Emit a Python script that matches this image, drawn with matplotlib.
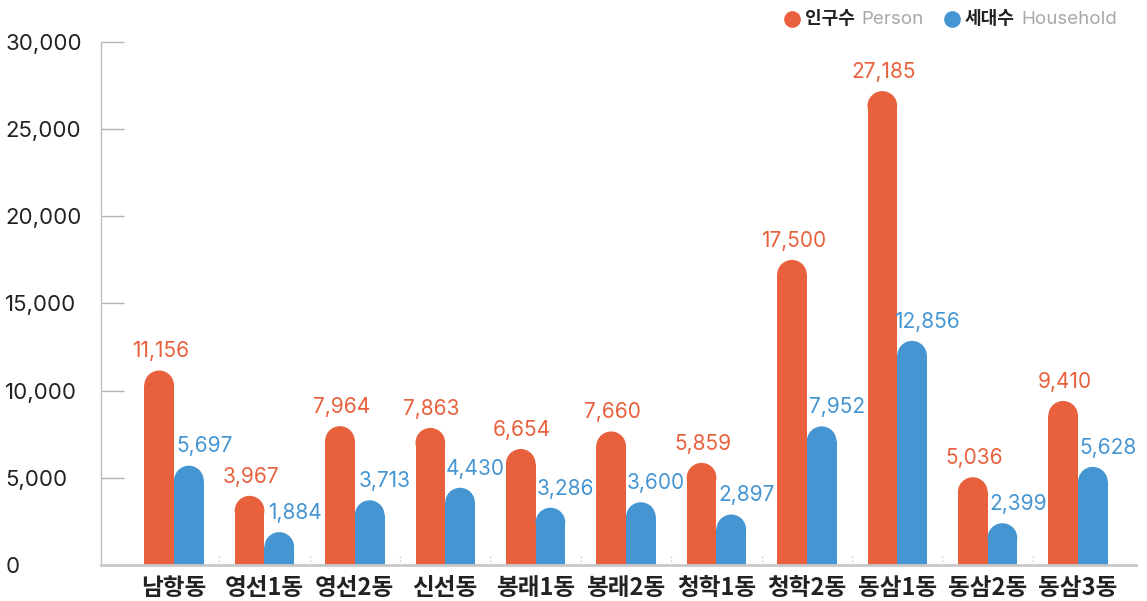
import numpy as np
import matplotlib.pyplot as plt
from matplotlib.patches import Ellipse
from matplotlib.lines import Line2D

# data
dongs = ['남항동', '영선1동', '영선2동', '신선동', '봉래1동', '봉래2동',
         '청학1동', '청학2동', '동삼1동', '동삼2동', '동삼3동']
person = [11156, 3967, 7964, 7863, 6654, 7660, 5859, 17500, 27185, 5036, 9410]
household = [5697, 1884, 3713, 4430, 3286, 3600, 2897, 7952, 12856, 2399, 5628]
yticks = [0, 5000, 10000, 15000, 20000, 25000, 30000]

ORANGE = '#E9603D'
BLUE = '#4595D3'
FONT = ['Inter', 'Noto Sans CJK KR', 'DejaVu Sans']
KFONT = ['Noto Sans CJK KR', 'DejaVu Sans']
plt.rcParams['font.family'] = FONT

W, H = 1147, 601
fig = plt.figure(figsize=(W / 100, H / 100), dpi=100)
ax = fig.add_axes([101 / W, 36 / H, (1136 - 101) / W, (565 - 42) / H])

step = 90.4  # px per category
ax.set_xlim(-(174 - 101) / step, (1136 - 174) / step)
ax.set_ylim(0, 30000)

bw = 29.7 / step
# radius of rounded tops in data units (circle in pixels)
p0 = ax.transData.transform((0, 0))
p1 = ax.transData.transform((1, 1))
ry = (29.7 / 2) / (p1[1] - p0[1])

x = np.arange(len(dongs))
# (values, bar offset, label shift in points, colour)
for vals, off, dx, col in [(person, -bw / 2, 1, ORANGE), (household, bw / 2, 11, BLUE)]:
    for xi, v in zip(x, vals):
        xc = xi + off
        ax.bar(xc, v - ry, width=bw, color=col, linewidth=0)
        ax.add_patch(Ellipse((xc, v - ry), bw, 2 * ry, color=col, linewidth=0))
        ax.annotate(f'{v:,}', (xc, v), xytext=(dx, 9.5), textcoords='offset points',
                    ha='center', va='baseline', fontsize=15, color=col, zorder=5)

# dotted separators
ax.vlines(x[:-1] + 0.5, 0, 650, colors='#c4c4c4', linestyles=':', linewidth=1)

for s in ['top', 'right']:
    ax.spines[s].set_visible(False)
ax.spines['left'].set_color('#bdbdbd')
ax.spines['left'].set_linewidth(1)
ax.spines['bottom'].set_color('#c8c8c8')
ax.spines['bottom'].set_linewidth(2)

ax.set_yticks(yticks)
ax.set_yticklabels([f'{t:,}' for t in yticks])
ax.tick_params(axis='y', direction='in', length=16.5, color='#b5b5b5', width=1,
               pad=69, labelsize=16, labelcolor='#222222')
for lab in ax.get_yticklabels():
    lab.set_ha('left')

ax.set_xticks(x)
ax.set_xticklabels(dongs, family=KFONT, fontsize=17, fontweight='bold', color='#222222')
ax.tick_params(axis='x', length=0, pad=8)

# legend
def fx(px):
    return px / W

def fy(py):
    return (H - py) / H

ly = 19
for cx, col in [(792, ORANGE), (952, BLUE)]:
    fig.add_artist(Line2D([fx(cx)], [fy(ly)], marker='o', markersize=11,
                          color=col, transform=fig.transFigure))
fig.text(fx(805), fy(ly), '인구수', family=KFONT, fontsize=13, fontweight='bold',
         color='#222222', va='center', ha='left')
fig.text(fx(861), fy(ly), 'Person', fontsize=13.5, color='#a8a8a8', va='center', ha='left')
fig.text(fx(965), fy(ly), '세대수', family=KFONT, fontsize=13, fontweight='bold',
         color='#222222', va='center', ha='left')
fig.text(fx(1021), fy(ly), 'Household', fontsize=13.5, color='#a8a8a8', va='center', ha='left')

fig.savefig('out.png', dpi=100)
